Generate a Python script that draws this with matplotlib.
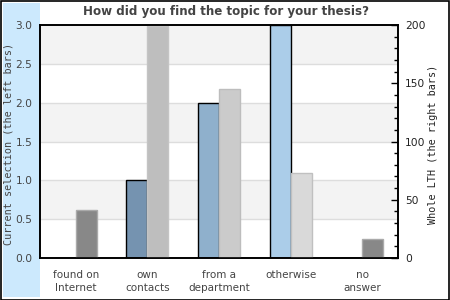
import matplotlib
matplotlib.use("Agg")
import matplotlib.pyplot as plt
from matplotlib.patches import Rectangle
from matplotlib.ticker import MultipleLocator

categories = ["found on\nInternet", "own\ncontacts", "from a\ndepartment", "otherwise", "no\nanswer"]
current_values = [0, 1, 2, 3, 0]
whole_values = [41, 199, 145, 73, 16]
left_colors = ["#7593b0", "#7593b0", "#8fb0cc", "#abcde9", "#abcde9"]
right_colors = ["#888888", "#bebebe", "#cbcbcb", "#d9d9d9", "#888888"]
right_edges = ["#aaaaaa", "#c4c4c4", "#bdbdbd", "#c0c0c0", "#aaaaaa"]
title = "How did you find the topic for your thesis?"

W, H = 450, 300
fig = plt.figure(figsize=(4.5, 3), dpi=100)

# frame and blue band
fig.patches.append(Rectangle((0.5 / W, 0.5 / H), (W - 1.5) / W, (H - 1.5) / H, transform=fig.transFigure,
                             facecolor="white", edgecolor="black", linewidth=1.2, zorder=-2))
fig.patches.append(Rectangle((3 / W, 3 / H), 37 / W, 294 / H, transform=fig.transFigure,
                             facecolor="#cce9fd", edgecolor="none", zorder=-1))

ax = fig.add_axes([40 / W, (H - 258) / H, 358 / W, 233 / H])
ax.set_facecolor("white")
ax.set_xlim(-0.5, len(categories) - 0.5)
ax.set_ylim(0, 3)
for lo in (0.5, 1.5, 2.5):
    ax.axhspan(lo, lo + 0.5, color="#f3f3f3", zorder=0, linewidth=0)
for y in (0.5, 1.0, 1.5, 2.0, 2.5):
    ax.axhline(y, color="#dddddd", linewidth=1, zorder=0.5)

w = 0.293
x = list(range(len(categories)))
ax.bar([i - w for i in x], current_values, width=w, align="edge", color=left_colors,
       edgecolor="black", linewidth=1, zorder=2)

ax2 = ax.twinx()
ax2.set_ylim(0, 200)
ax2.bar(x, whole_values, width=w, align="edge", color=right_colors,
        edgecolor=right_edges, linewidth=1, zorder=2)

ax.set_xticks(x)
ax.set_xticklabels(categories, fontsize=7.5, color="#444444", va="top", linespacing=1.3)
ax.tick_params(axis="x", length=0, pad=9)
ax.set_yticks([0, 0.5, 1.0, 1.5, 2.0, 2.5, 3.0])
ax.set_yticklabels(["0.0", "0.5", "1.0", "1.5", "2.0", "2.5", "3.0"])
ax.tick_params(axis="y", length=0, pad=5.5, labelsize=7.7, labelcolor="#444444")

ax2.yaxis.set_major_locator(MultipleLocator(50))
ax2.yaxis.set_minor_locator(MultipleLocator(10))
ax2.tick_params(axis="y", which="major", direction="in", length=5, width=1, pad=5,
                labelsize=7.7, labelcolor="#222222")
ax2.tick_params(axis="y", which="minor", direction="in", length=3, width=1)

for a in (ax, ax2):
    for s in a.spines.values():
        s.set_linewidth(1.2)
        s.set_color("black")

fig.text(9 / W, 1 - 144 / H, "Current selection (the left bars)",
         rotation=90, ha="center", va="center", family="DejaVu Sans Mono", fontsize=7.3, color="#444444")
fig.text(433 / W, 1 - 144.5 / H, "Whole LTH (the right bars)",
         rotation=90, ha="center", va="center", family="DejaVu Sans Mono", fontsize=7.3, color="#222222")
fig.text(226 / W, 1 - 12 / H, title, ha="center", va="center", fontsize=8.6,
         fontweight="bold", color="#444444")

fig.savefig("out.png", dpi=100)
